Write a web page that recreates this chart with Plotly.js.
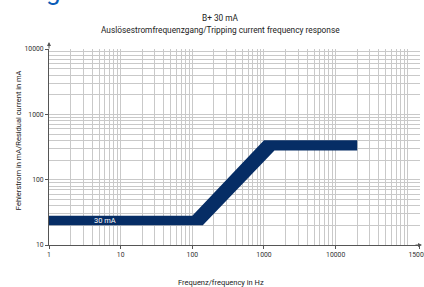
<!DOCTYPE html>
<html>
<head>
<meta charset="utf-8">
<script src="https://cdn.plot.ly/plotly-3.0.1.min.js"></script>
<style>html,body{margin:0;padding:0;background:#fff;}#chart{width:424px;height:287px;}</style>
</head>
<body>
<div id="chart"></div>
<script>
// Band outline (frequency in Hz, tripping current in mA): upper edge then lower edge back
const bandFreq = [1, 100, 1000, 20000, 20000, 1400, 140, 1];
const bandCurrent = [28, 28, 400, 400, 280, 280, 20, 20];

const xMajorVals = [1, 10, 100, 1000, 10000, 150000];
const xMajorText = ['1', '10', '100', '1000', '10000', '150000'];
const yMajorVals = [10, 100, 1000, 10000];
const yMajorText = ['10', '100', '1000', '10000'];
const xMinorVals = [2,3,4,5,6,7,8,9,20,30,40,50,60,70,80,90,200,300,400,500,600,700,800,900,
  2000,3000,4000,5000,6000,7000,8000,9000,20000,30000,40000,50000,60000,70000,80000,90000,100000];
const yMinorVals = [20,30,40,50,60,70,80,90,200,300,400,500,600,700,800,900,2000,3000,4000,5000,6000,7000,8000,9000];

const labelText = '30 mA';
const labelFreq = 6;
const labelCurrent = 23.7;

const fontFam = 'Roboto, "Liberation Sans", sans-serif';
const gridCol = '#c9c9c9';

const traces = [{
  type: 'scatter', mode: 'lines',
  x: bandFreq, y: bandCurrent,
  fill: 'toself', fillcolor: '#062d65',
  line: {width: 0, color: '#062d65'},
  hoverinfo: 'skip', showlegend: false
}];

const layout = {
  width: 424, height: 287,
  margin: {l: 49, r: 4, t: 49, b: 42},
  paper_bgcolor: '#fff', plot_bgcolor: '#fff',
  font: {family: fontFam, size: 7, color: '#333'},
  showlegend: false,
  xaxis: {
    type: 'log', range: [0, Math.log10(150000) + 0.001],
    tickmode: 'array', tickvals: xMajorVals, ticktext: xMajorText,
    ticklabeloverflow: 'allow',
    showgrid: true, gridcolor: gridCol, gridwidth: 1,
    ticks: 'outside', ticklen: 3, tickcolor: '#555', tickwidth: 1,
    tickfont: {size: 6.8, color: '#333', family: fontFam},
    showline: true, linecolor: '#555', linewidth: 1,
    zeroline: false, fixedrange: true,
    minor: {tickmode: 'array', tickvals: xMinorVals, showgrid: true, gridcolor: gridCol, gridwidth: 1, ticks: ''}
  },
  yaxis: {
    type: 'log', range: [1, 4],
    tickmode: 'array', tickvals: yMajorVals, ticktext: yMajorText,
    showgrid: true, gridcolor: gridCol, gridwidth: 1,
    ticks: 'outside', ticklen: 3, tickcolor: '#555', tickwidth: 1,
    tickfont: {size: 6.8, color: '#333', family: fontFam},
    showline: true, linecolor: '#555', linewidth: 1,
    zeroline: false, fixedrange: true,
    minor: {tickmode: 'array', tickvals: yMinorVals, showgrid: true, gridcolor: gridCol, gridwidth: 1, ticks: ''}
  },
  annotations: [
    {text: 'B+ 30 mA', xref: 'paper', yref: 'paper', x: 0.463, y: 1, yshift: 31,
     showarrow: false, font: {size: 8.3, color: '#222', family: fontFam}, xanchor: 'center', yanchor: 'middle'},
    {text: 'Auslösestromfrequenzgang/Tripping current frequency response', xref: 'paper', yref: 'paper', x: 0.463, y: 1, yshift: 19.5,
     showarrow: false, font: {size: 8.3, color: '#222', family: fontFam}, xanchor: 'center', yanchor: 'middle'},
    {text: 'Frequenz/frequency in Hz', xref: 'paper', yref: 'paper', x: 0.464, y: 0, yshift: -37,
     showarrow: false, font: {size: 7.5, color: '#222', family: fontFam}, xanchor: 'center', yanchor: 'middle'},
    {text: 'Fehlerstrom in mA/Residual current in mA', xref: 'paper', yref: 'paper', x: 0, xshift: -31, y: 0.535,
     textangle: -90, showarrow: false, font: {size: 7.5, color: '#222', family: fontFam}, xanchor: 'center', yanchor: 'middle'},
    {text: labelText, x: Math.log10(labelFreq), y: Math.log10(labelCurrent), xref: 'x', yref: 'y',
     showarrow: false, font: {size: 7.5, color: '#fff', family: fontFam}, xanchor: 'center', yanchor: 'middle'},
    // axis arrowheads
    {text: '', xref: 'paper', yref: 'paper', x: 0, y: 1, yshift: 7, ax: 0, ay: 8, showarrow: true,
     arrowhead: 2, arrowsize: 0.8, arrowwidth: 1, arrowcolor: '#555', standoff: 0},
    {text: '', xref: 'paper', yref: 'paper', x: 1, xshift: 2, y: 0, ax: -8, ay: 0, showarrow: true,
     arrowhead: 2, arrowsize: 0.8, arrowwidth: 1, arrowcolor: '#555', standoff: 0},
    {text: 'g', xref: 'paper', yref: 'paper', x: 0, xshift: 4, y: 1, yshift: 58, showarrow: false,
     font: {size: 26, color: '#0a5cb8', family: fontFam}, xanchor: 'center', yanchor: 'middle'}
  ]
};

Plotly.newPlot('chart', traces, layout, {displayModeBar: false, staticPlot: true});
</script>
</body>
</html>
